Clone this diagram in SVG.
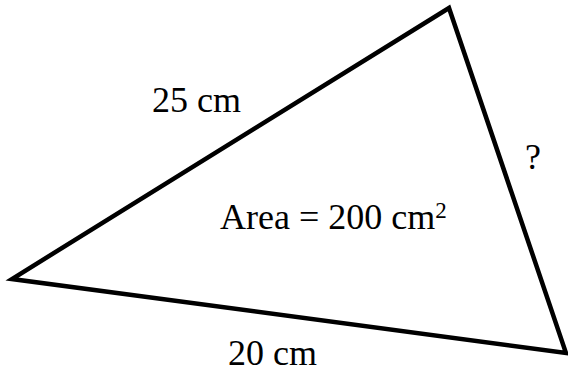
<svg xmlns="http://www.w3.org/2000/svg" width="568" height="372" viewBox="0 0 568 372">
<style>
.lbl{font-family:"Liberation Serif","Times New Roman",serif;font-size:36px;fill:#000}
.edge{fill:none;stroke:#000;stroke-width:4.5;stroke-linejoin:miter}
</style>
<rect width="568" height="372" fill="#fff"/>
<g id="triangle">
<polygon class="edge" points="449,8 12,279 566,353"/>
</g>
<g id="labels">
<text class="lbl" x="152" y="112">25 cm</text>
<text class="lbl" x="228" y="365">20 cm</text>
<text class="lbl" x="525" y="169">?</text>
<text class="lbl" x="220" y="229">Area = 200 cm<tspan font-size="23" dy="-11">2</tspan></text>
</g>
</svg>
